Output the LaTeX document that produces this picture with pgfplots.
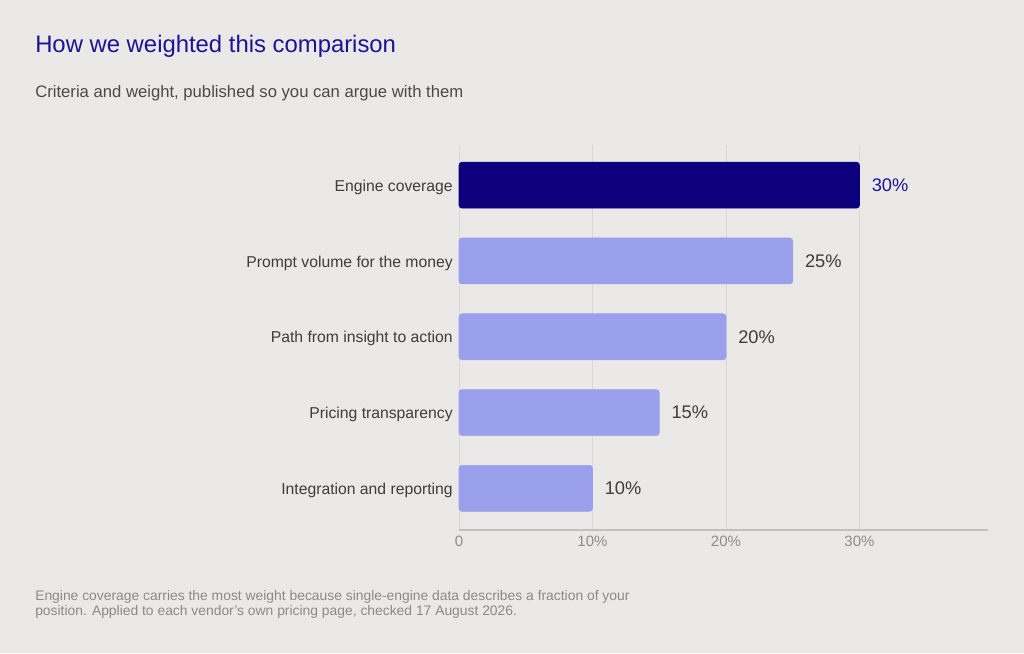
\documentclass[border=0pt]{standalone}
\usepackage{pgfplots}
\pgfplotsset{compat=1.18}
\usepackage{fontspec}
\setmainfont{Liberation Sans}
\definecolor{bgc}{HTML}{EAE9E7}
\definecolor{navybar}{HTML}{0C007D}
\definecolor{lightbar}{HTML}{9AA0EB}
\definecolor{titleblue}{HTML}{1B1494}
\definecolor{subgray}{HTML}{4A4A4A}
\definecolor{labelgray}{HTML}{3D3D3D}
\definecolor{tickgray}{HTML}{8C8C8C}
\definecolor{notegray}{HTML}{8A8A8A}
\definecolor{gridc}{HTML}{D9D8D6}
\definecolor{axisc}{HTML}{C2C1BF}
\begin{document}
\begin{tikzpicture}
\path[use as bounding box, fill=bgc] (0,0) rectangle (768pt,-489.75pt);
% titles
\node[anchor=base west, inner sep=0pt, text=titleblue, font=\fontsize{17.9}{21}\selectfont]
  at (26.25pt,-39.2pt) {How we weighted this comparison};
\node[anchor=base west, inner sep=0pt, text=subgray, font=\fontsize{12.5}{15}\selectfont]
  at (26.25pt,-72.75pt) {Criteria and weight, published so you can argue with them};
\begin{axis}[
	at = {(344.25pt,-397.5pt)},
	anchor = south west,
	scale only axis,
	width = 400.5pt,
	height = 288.75pt,
	xbar,
	bar width = 34.5pt,
	bar shift = 0pt,
	xmin = 0,
	xmax = 40,
	ymin = -0.53,
	ymax = 4.55,
	y dir = reverse,
	clip = false,
	axis x line* = bottom,
	axis y line* = left,
	x axis line style = {draw = axisc, line width = 1.1pt, shorten > = 3.5pt},
	y axis line style = {draw = none},
	xtick = {0, 10, 20, 30},
	xticklabels = {0, 10\%, 20\%, 30\%},
	ytick = {0, 1, 2, 3, 4},
	yticklabels = {Engine coverage, Prompt volume for the money, Path from insight to action, Pricing transparency, Integration and reporting},
	major tick length = 0pt,
	xmajorgrids,
	grid style = {draw = gridc, line width = 0.75pt},
	xticklabel style = {inner sep = 0pt, yshift = -4.5pt, text = tickgray, font = \fontsize{11.25}{13}\selectfont},
	yticklabel style = {inner sep = 0pt, xshift = -4.5pt, yshift = -1.5pt, text = labelgray, font = \fontsize{11.8}{14}\selectfont},
	/pgf/number format/assume math mode = true,
	point meta = x,
	nodes near coords = {\pgfmathprintnumber{\pgfplotspointmeta}\%},
	nodes near coords align = {horizontal},
	every node near coord/.append style = {anchor = west, inner sep = 0pt, xshift = 9pt, font = \fontsize{13.7}{16}\selectfont}
]
\addplot[draw = navybar, fill = navybar, rounded corners = 2.25pt, shorten > = 2pt,
	every node near coord/.append style = {text = titleblue}] coordinates {
	(30, 0)
};
\addplot[draw = lightbar, fill = lightbar, rounded corners = 2.25pt,
	every node near coord/.append style = {text = labelgray}] coordinates {
	(25, 1)
	(20, 2)
	(15, 3)
	(10, 4)
};
\end{axis}
% footnote
\node[anchor=base west, inner sep=0pt, text=notegray, font=\fontsize{10.4}{12}\selectfont]
  at (26.25pt,-450pt) {Engine coverage carries the most weight because single-engine data describes a fraction of your};
\node[anchor=base west, inner sep=0pt, text=notegray, font=\fontsize{10.4}{12}\selectfont]
  at (26.25pt,-461.5pt) {position. Applied to each vendor's own pricing page, checked 17 August 2026.};
\end{tikzpicture}
\end{document}
